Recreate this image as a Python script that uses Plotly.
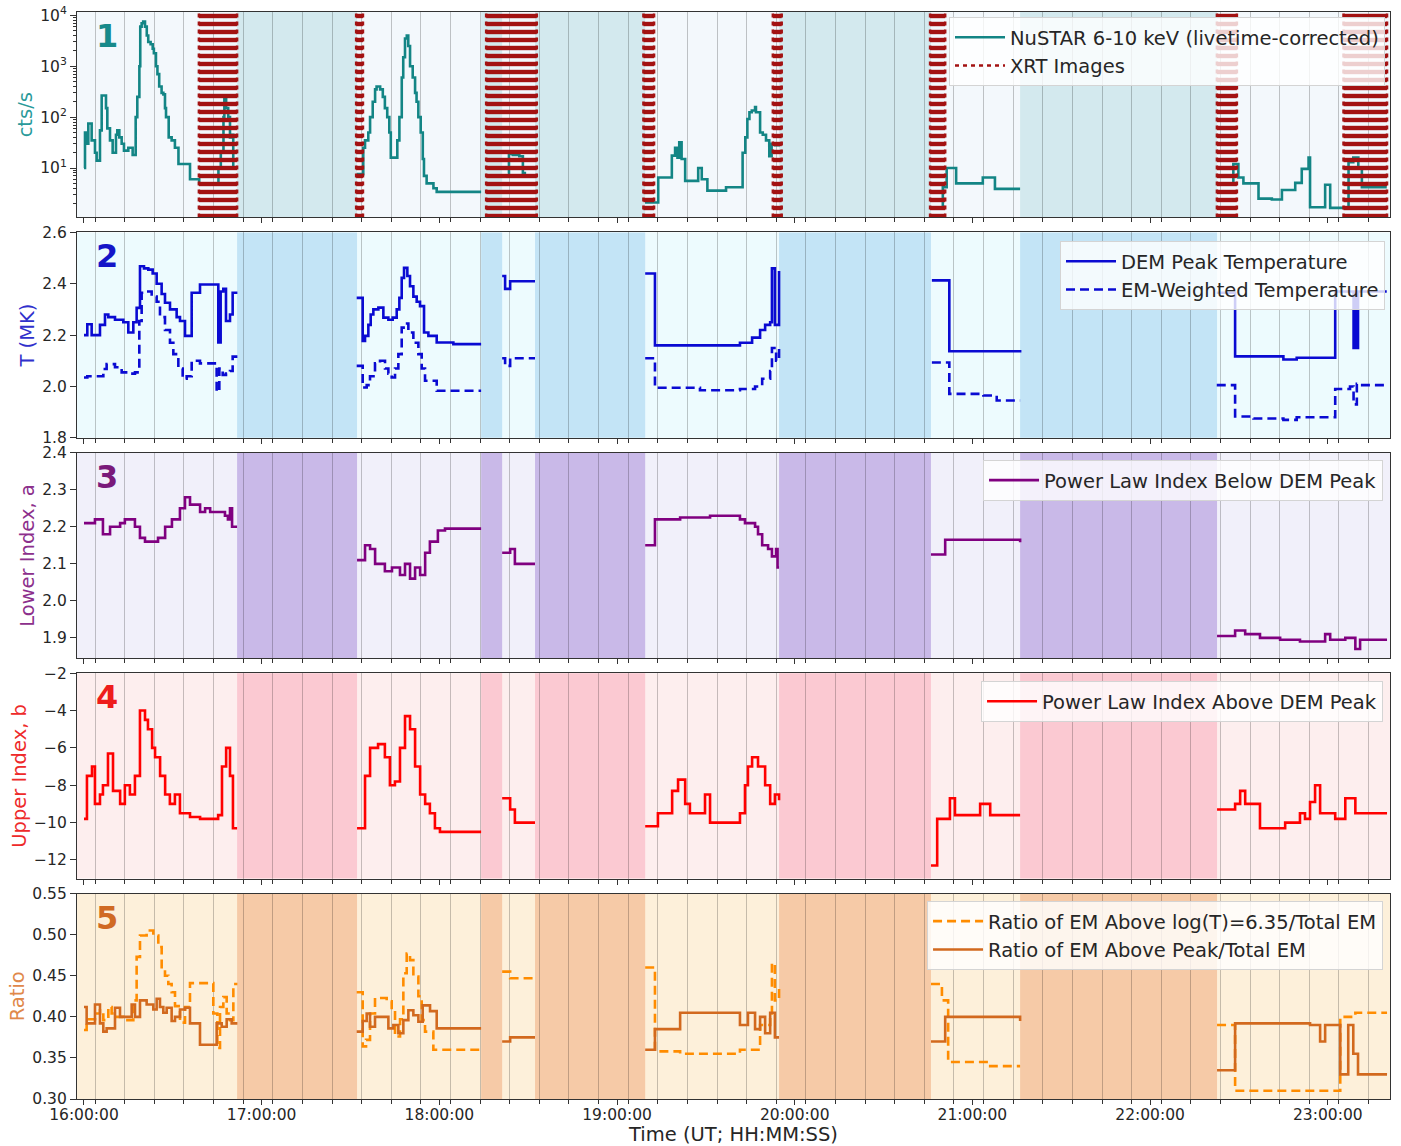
import pandas as pd
import plotly.graph_objects as go
from plotly.subplots import make_subplots

# ---------------------------------------------------------------------------
# Data (times are minutes after 16:00:00 UT; one inner list per orbit segment)
# ---------------------------------------------------------------------------
START = pd.Timestamp("2021-07-30 16:00:00")

# Panel 1: NuSTAR 6-10 keV livetime-corrected count rate
nustar_t = [
    [0, 0.34, 1.12, 1.46, 2.59, 3.71, 4.28, 5.40, 5.97, 7.43, 7.88, 8.78, 9.68, 10.8,
     11.25, 11.93, 12.72, 13.5, 14.97, 16.43, 17.45, 18.0, 18.7, 19.0, 19.47, 20.0,
     20.6, 21.2, 21.7, 22.5, 23.2, 23.6, 24.3, 24.8, 25.4, 26.2, 26.8, 27.35, 27.7,
     28.6, 29.6, 30.7, 31.9, 33.0, 35.8, 38.9, 45.4, 46.2, 47.1, 47.4, 48.0, 48.7,
     49.3, 49.9, 50.4, 51.5],
    [92.1, 94.3, 94.9, 96.0, 96.6, 97.5, 98.3, 98.8, 100.0, 100.9, 101.6, 102.4, 103.1,
     103.6, 105.8, 106.5, 107.3, 107.8, 108.4, 109.0, 109.5, 110.1, 111.0, 111.8,
     112.3, 112.9, 113.7, 114.4, 114.8, 115.7, 118.0, 119.1, 134.1],
    [143.1, 143.5, 144.8, 147.0, 148.2, 149.3],
    [189.45, 193.9, 198.5, 199.6, 200.4, 201.0, 201.8, 203.0, 207.4, 208.6, 210.5,
     216.8, 222.4, 223.3, 224.0, 224.7, 225.5, 226.6, 226.9, 228.3, 229.2, 230.3,
     231.4, 232.2, 233.4, 235.0],
    [286.7, 290.0, 291.3, 294.5, 303.5, 307.6, 316.1],
    [382.5, 388.1, 389.8, 391.5, 396.6, 401.1, 404.5, 409.0, 411.2, 413.5, 414.0,
     419.1, 420.8, 427.0, 428.6, 430.3, 431.5, 439.9],
]
nustar_rate = [
    [10, 50, 30, 75, 35, 20, 14, 55, 265, 150, 60, 35, 20, 45, 55, 40, 30, 22, 25, 18,
     100, 250, 1000, 6000, 7000, 7500, 6000, 4000, 3000, 2700, 2200, 1800, 1000, 700,
     400, 300, 280, 150, 100, 40, 35, 25, 12, 12, 6, 5, 10, 20, 100, 250, 150, 100,
     40, 45, 10, 10],
    [7.6, 25, 35, 50, 100, 200, 350, 400, 350, 250, 150, 100, 50, 16, 35, 100, 600,
     1500, 3500, 4000, 2500, 1000, 600, 300, 200, 100, 50, 15, 7, 5, 4, 3.4, 3.4],
    [8, 19, 18, 17, 8, 8],
    [2.1, 6.5, 17.5, 25, 16, 32, 15, 5.6, 10, 6, 3.6, 4.2, 20, 40, 92, 125, 135, 158,
     125, 50, 45, 35, 17, 30, 28, 28],
    [1.7, 4.2, 10, 5, 6.5, 3.9, 3.9],
    [5, 12, 6.5, 5, 2.5, 2.4, 3.7, 5.1, 9.6, 16, 1.7, 4.7, 1.65, 13, 16, 10, 4.2, 4.2],
]

# XRT imaging windows (start, end)
xrt_start = [38.8, 91.9, 135.8, 188.9, 232.6, 285.7, 382.55, 425.3]
xrt_end = [51.7, 94.2, 152.9, 192.5, 235.6, 290.8, 389.3, 440.0]

# Panel 2: temperatures (MK)
tpeak_t = [
    [0, 1.12, 2.59, 5.40, 7.09, 8.22, 10.47, 13.28, 14.97, 16.66, 17.78, 18.91, 20.26,
     21.72, 23.19, 24.54, 26.22, 27.35, 29.04, 31.29, 32.42, 34.11, 36.36, 39.17,
     45.36, 46.15, 47.05, 47.95, 49.30, 50.2, 51.8],
    [92.08, 94.11, 94.9, 96.02, 96.81, 97.71, 99.4, 101.09, 102.78, 104.24, 105.6,
     106.49, 107.28, 108.07, 109.19, 110.09, 111.22, 112.34, 113.47, 114.82, 116.29,
     119.1, 124.73, 134.1],
    [141.2, 142.2, 143.9, 152.3],
    [189.5, 192.8, 221.5, 225.6, 228.3, 230.0, 231.7, 232.3, 233.3, 234.7],
    [286.3, 292.2, 316.1],
    [382.5, 388.7, 405.0, 409.5, 422.5, 428.7, 429.3, 429.6, 430.2, 439.9],
]
tpeak = [
    [2.20, 2.242, 2.20, 2.24, 2.28, 2.27, 2.26, 2.25, 2.21, 2.25, 2.306, 2.468, 2.46,
     2.455, 2.44, 2.40, 2.36, 2.326, 2.30, 2.27, 2.255, 2.197, 2.365, 2.397, 2.171,
     2.37, 2.38, 2.255, 2.28, 2.365, 2.365],
    [2.345, 2.177, 2.197, 2.24, 2.28, 2.30, 2.307, 2.268, 2.26, 2.268, 2.30, 2.345,
     2.423, 2.462, 2.43, 2.39, 2.35, 2.33, 2.313, 2.21, 2.197, 2.171, 2.165, 2.165],
    [2.43, 2.38, 2.41, 2.41],
    [2.44, 2.16, 2.17, 2.19, 2.22, 2.24, 2.25, 2.46, 2.24, 2.45],
    [2.413, 2.137, 2.132],
    [2.365, 2.117, 2.105, 2.112, 2.37, 2.15, 2.37, 2.15, 2.37, 2.37],
]
tem_t = [
    [0, 1.12, 6.53, 7.65, 10.47, 12.72, 14.97, 17.22, 18.68, 19.47, 21.16, 22.85,
     24.54, 25.66, 27.35, 29.04, 30.17, 31.86, 33.32, 34.67, 36.36, 39.17, 44.8,
     45.7, 46.83, 47.95, 49.3, 50.2, 51.8],
    [92.08, 94.11, 95.46, 96.58, 98.27, 99.96, 101.65, 102.78, 103.9, 105.03, 106.15,
     107.28, 108.4, 109.53, 111.22, 112.91, 114.03, 115.16, 119.1, 134.1],
    [141.2, 142.2, 143.9, 152.3],
    [189.5, 192.8, 208.0, 221.5, 226.6, 229.0, 231.7, 232.3, 233.7, 234.7],
    [286.3, 292.2, 303.7, 308.2, 316.1],
    [382.5, 388.7, 394.9, 405.0, 409.5, 422.5, 427.5, 428.7, 429.8, 430.9, 439.9],
]
tem = [
    [2.035, 2.04, 2.068, 2.087, 2.075, 2.055, 2.05, 2.055, 2.255, 2.365, 2.37, 2.35,
     2.33, 2.27, 2.22, 2.17, 2.126, 2.07, 2.03, 2.04, 2.10, 2.09, 1.98, 2.07, 2.045,
     2.05, 2.06, 2.116, 2.116],
    [2.08, 1.996, 2.005, 2.04, 2.09, 2.10, 2.07, 2.05, 2.035, 2.07, 2.126, 2.229,
     2.245, 2.21, 2.17, 2.126, 2.07, 2.022, 1.983, 1.983],
    [2.11, 2.08, 2.11, 2.11],
    [2.11, 1.995, 1.985, 1.99, 2.00, 2.03, 2.06, 2.15, 2.10, 2.15],
    [2.093, 1.971, 1.965, 1.945, 1.945],
    [2.005, 1.883, 1.875, 1.87, 1.88, 1.99, 2.0, 1.93, 2.01, 2.005, 2.005],
]

# Panel 3: power-law index below the DEM peak
idx_a_t = [
    [0, 3.7, 6.4, 8.8, 12.2, 13.8, 17.2, 18.9, 20.6, 25.0, 27.4, 29.7, 32.4, 34.1, 35.8,
     39.2, 40.9, 42.6, 47.6, 48.6, 49.3, 50.0, 51.7],
    [92.2, 94.9, 96.6, 98.3, 101.6, 104.0, 106.7, 108.4, 110.1, 111.8, 113.5, 115.2,
     116.8, 119.5, 121.9, 134.1],
    [141.2, 143.9, 145.5, 152.3],
    [189.5, 192.8, 201.3, 211.4, 221.5, 223.2, 226.6, 227.6, 229.0, 231.0, 232.3, 233.7,
     234.2, 234.7],
    [286.0, 290.8, 316.1],
    [382.6, 388.7, 392.1, 397.1, 403.9, 410.6, 419.1, 420.8, 425.9, 429.3, 430.9, 440.0],
]
idx_a = [
    [2.21, 2.22, 2.18, 2.20, 2.21, 2.22, 2.20, 2.17, 2.16, 2.17, 2.20, 2.22, 2.25, 2.28,
     2.26, 2.24, 2.25, 2.24, 2.23, 2.22, 2.25, 2.20, 2.20],
    [2.11, 2.15, 2.14, 2.10, 2.08, 2.09, 2.07, 2.10, 2.06, 2.09, 2.07, 2.13, 2.16, 2.19,
     2.195, 2.195],
    [2.13, 2.14, 2.10, 2.10],
    [2.15, 2.22, 2.225, 2.23, 2.22, 2.21, 2.20, 2.18, 2.15, 2.14, 2.12, 2.14, 2.09, 2.09],
    [2.125, 2.165, 2.158],
    [1.905, 1.92, 1.91, 1.90, 1.895, 1.89, 1.91, 1.895, 1.90, 1.87, 1.895, 1.895],
]

# Panel 4: power-law index above the DEM peak
idx_b_t = [
    [0, 1.0, 2.7, 3.7, 5.4, 6.4, 8.1, 9.8, 12.2, 13.8, 15.5, 17.2, 18.9, 20.6, 21.6,
     23.0, 24.0, 25.7, 27.4, 29.0, 30.7, 32.4, 35.8, 39.2, 45.3, 46.6, 48.0, 49.3,
     50.3, 51.7],
    [92.2, 94.9, 96.6, 99.3, 101.6, 103.3, 105.0, 106.7, 108.4, 110.1, 111.8, 113.5,
     115.2, 116.8, 118.5, 120.2, 134.1],
    [141.2, 143.9, 145.5, 152.3],
    [189.5, 193.8, 198.6, 200.6, 203.0, 204.6, 209.7, 211.4, 221.5, 223.2, 224.2,
     225.6, 227.6, 230.0, 231.7, 233.3, 234.7],
    [286.0, 288.1, 292.4, 294.1, 302.6, 306.0, 316.1],
    [382.6, 388.7, 390.4, 392.1, 397.1, 405.6, 410.6, 412.3, 414.0, 415.7, 417.4,
     422.5, 425.9, 429.3, 440.0],
]
idx_b = [
    [-9.8, -7.5, -7.0, -9.0, -8.5, -8.0, -6.3, -8.3, -9.0, -8.0, -8.5, -7.5, -4.0,
     -4.5, -5.0, -6.0, -6.5, -7.5, -8.5, -9.0, -8.5, -9.5, -9.7, -9.8, -9.6, -7.0,
     -6.0, -7.5, -10.3, -10.3],
    [-10.3, -7.5, -6.0, -5.8, -6.5, -8.0, -7.8, -6.0, -4.3, -5.0, -7.0, -8.5, -9.0,
     -9.5, -10.3, -10.5, -10.5],
    [-8.7, -9.3, -10.0, -10.0],
    [-10.2, -9.5, -8.3, -7.7, -9.0, -9.5, -8.5, -10.0, -9.5, -8.0, -7.0, -6.5, -7.0,
     -8.0, -9.0, -8.5, -8.8],
    [-12.3, -9.8, -8.7, -9.6, -9.0, -9.6, -9.6],
    [-9.3, -9.0, -8.3, -9.0, -10.3, -10.0, -9.5, -9.8, -8.9, -8.0, -9.5, -9.8, -8.7,
     -9.5, -9.5],
]

# Panel 5: emission-measure ratios
ratio_hot_t = [
    [0, 0.9, 4.28, 5.40, 6.53, 8.22, 9.34, 10.47, 13.28, 16.66, 17.78, 18.91, 21.16,
     23.41, 25.1, 26.23, 27.35, 28.48, 29.6, 30.73, 32.42, 34.11, 35.79, 43.67, 45.03,
     45.93, 47.05, 48.18, 49.3, 50.43, 51.8],
    [92.08, 94.11, 95.24, 96.58, 98.27, 102.21, 103.9, 105.03, 106.72, 107.84, 108.97,
     110.09, 111.22, 112.91, 114.03, 115.16, 117.97, 134.1],
    [141.2, 143.9, 152.3],
    [189.5, 192.8, 201.3, 221.5, 228.3, 231.7, 232.3, 233.3, 234.7],
    [286.0, 289.7, 291.8, 306.0, 316.1],
    [382.6, 388.7, 424.2, 429.3, 440.0],
]
ratio_hot = [
    [0.384, 0.397, 0.404, 0.408, 0.396, 0.412, 0.404, 0.40, 0.396, 0.42, 0.473, 0.499,
     0.505, 0.499, 0.485, 0.457, 0.45, 0.44, 0.43, 0.413, 0.393, 0.412, 0.441, 0.404,
     0.362, 0.412, 0.424, 0.404, 0.396, 0.44, 0.44],
    [0.430, 0.364, 0.372, 0.404, 0.423, 0.419, 0.408, 0.376, 0.397, 0.453, 0.477,
     0.469, 0.449, 0.425, 0.396, 0.382, 0.360, 0.360],
    [0.455, 0.447, 0.447],
    [0.46, 0.358, 0.355, 0.36, 0.39, 0.40, 0.465, 0.42, 0.44],
    [0.44, 0.42, 0.345, 0.34, 0.34],
    [0.39, 0.31, 0.40, 0.405, 0.405],
]
ratio_peak_t = [
    [0, 0.9, 3.71, 5.40, 6.53, 7.65, 10.47, 12.16, 16.1, 17.22, 18.91, 21.16, 23.41,
     24.54, 25.66, 26.79, 27.92, 29.6, 30.73, 32.42, 34.11, 35.79, 39.17, 44.8, 46.49,
     48.18, 49.87, 51.8],
    [92.08, 94.11, 95.46, 96.58, 98.27, 99.96, 102.78, 104.47, 106.15, 107.84, 109.53,
     111.22, 112.91, 114.37, 116.85, 119.1, 134.1],
    [141.2, 143.9, 152.3],
    [189.5, 192.8, 201.3, 221.5, 224.2, 226.6, 228.3, 230.0, 231.7, 233.3, 234.7],
    [286.0, 290.8, 316.1],
    [382.6, 388.7, 414.0, 417.4, 419.1, 424.2, 426.9, 428.6, 430.2, 440.0],
]
ratio_peak = [
    [0.412, 0.392, 0.415, 0.392, 0.382, 0.386, 0.411, 0.40, 0.415, 0.40, 0.42, 0.415,
     0.409, 0.422, 0.412, 0.405, 0.411, 0.395, 0.40, 0.409, 0.411, 0.392, 0.366, 0.392,
     0.388, 0.397, 0.392, 0.392],
    [0.382, 0.395, 0.404, 0.388, 0.40, 0.40, 0.386, 0.39, 0.38, 0.396, 0.408, 0.402,
     0.394, 0.414, 0.407, 0.386, 0.386],
    [0.37, 0.375, 0.375],
    [0.36, 0.385, 0.405, 0.39, 0.405, 0.385, 0.40, 0.38, 0.405, 0.375, 0.375],
    [0.37, 0.40, 0.395],
    [0.335, 0.392, 0.39, 0.37, 0.39, 0.33, 0.39, 0.355, 0.33, 0.33],
]

# Intervals without DEM coverage (shaded darker in every panel)
gap_start = [51.7, 134.1, 152.3, 234.7, 316.1]
gap_end = [92.2, 141.2, 189.5, 286.0, 382.6]

X_RANGE = [-2.36, 441.0]


def ts(m):
    return START + pd.Timedelta(minutes=m)


def join(segs_t, segs_v):
    """Flatten orbit segments into one trace, with gaps between segments."""
    xs, ys = [], []
    for t, v in zip(segs_t, segs_v):
        xs += [ts(m) for m in t] + [None]
        ys += list(v) + [None]
    return xs, ys


FONT = "DejaVu Sans"
panels = [
    dict(title="cts/s", col="#2a9a9a", light="#f3f8fc", dark="#d3e9ee", num="#178a8a"),
    dict(title="T (MK)", col="#3030cc", light="#edfbfe", dark="#c3e4f6", num="#1515c8"),
    dict(title="Lower Index, a", col="#8c2f8c", light="#f1f0fa", dark="#c9b9e8", num="#7a1a7a"),
    dict(title="Upper Index, b", col="#ee2a2a", light="#fdeeee", dark="#fbc9d2", num="#ee1c1c"),
    dict(title="Ratio", col="#e0884a", light="#fdf0da", dark="#f6caa7", num="#d06a24"),
]

fig = make_subplots(rows=5, cols=1, shared_xaxes=True, vertical_spacing=0.0138)

# Panel 1 ---------------------------------------------------------------
x, y = join(nustar_t, nustar_rate)
fig.add_trace(go.Scatter(x=x, y=y, mode="lines", name="NuSTAR 6-10 keV (livetime-corrected)",
                         line=dict(color="#138585", width=2.6, shape="hv"),
                         legend="legend"), row=1, col=1)

XRT_COL = "#a31212"
XRT_LO, XRT_HI = 1.07, 11700
hx, hy, ex, ey = [], [], [], []
for s, e in zip(xrt_start, xrt_end):
    hx += [ts(s), ts(e), ts(e), ts(s), ts(s), None]
    hy += [XRT_LO, XRT_LO, XRT_HI, XRT_HI, XRT_LO, None]
    ex += [ts(s), ts(s), None, ts(e), ts(e), None]
    ey += [XRT_LO, XRT_HI, None, XRT_LO, XRT_HI, None]
fig.add_trace(go.Scatter(x=hx, y=hy, mode="none", fill="toself", showlegend=False,
                         fillcolor="rgba(0,0,0,0)", hoverinfo="skip",
                         fillpattern=dict(shape="-", fgcolor=XRT_COL, bgcolor="rgba(0,0,0,0)",
                                          fgopacity=1, size=8, solidity=0.55)), row=1, col=1)
fig.add_trace(go.Scatter(x=ex, y=ey, mode="lines", name="XRT Images",
                         line=dict(color=XRT_COL, width=2.5, dash="4px,4px"),
                         legend="legend"), row=1, col=1)

# Panel 2 ---------------------------------------------------------------
x, y = join(tpeak_t, tpeak)
fig.add_trace(go.Scatter(x=x, y=y, mode="lines", name="DEM Peak Temperature",
                         line=dict(color="#0a0ad2", width=2.6, shape="hv"),
                         legend="legend2"), row=2, col=1)
x, y = join(tem_t, tem)
fig.add_trace(go.Scatter(x=x, y=y, mode="lines", name="EM-Weighted Temperature",
                         line=dict(color="#0a0ad2", width=2.6, shape="hv", dash="9px,5px"),
                         legend="legend2"), row=2, col=1)

# Panel 3 ---------------------------------------------------------------
x, y = join(idx_a_t, idx_a)
fig.add_trace(go.Scatter(x=x, y=y, mode="lines", name="Power Law Index Below DEM Peak",
                         line=dict(color="#800080", width=2.6, shape="hv"),
                         legend="legend3"), row=3, col=1)

# Panel 4 ---------------------------------------------------------------
x, y = join(idx_b_t, idx_b)
fig.add_trace(go.Scatter(x=x, y=y, mode="lines", name="Power Law Index Above DEM Peak",
                         line=dict(color="#ff0000", width=2.6, shape="hv"),
                         legend="legend4"), row=4, col=1)

# Panel 5 ---------------------------------------------------------------
x, y = join(ratio_hot_t, ratio_hot)
fig.add_trace(go.Scatter(x=x, y=y, mode="lines", name="Ratio of EM Above log(T)=6.35/Total EM",
                         line=dict(color="#ff8c00", width=2.6, shape="hv", dash="9px,5px"),
                         legend="legend5"), row=5, col=1)
x, y = join(ratio_peak_t, ratio_peak)
fig.add_trace(go.Scatter(x=x, y=y, mode="lines", name="Ratio of EM Above Peak/Total EM",
                         line=dict(color="#d2691e", width=2.6, shape="hv"),
                         legend="legend5"), row=5, col=1)

# Backgrounds, shaded gaps and panel numbers
shapes, annotations = [], []
for i, p in enumerate(panels, start=1):
    ax = "" if i == 1 else str(i)
    shapes.append(dict(type="rect", xref=f"x{ax} domain", yref=f"y{ax} domain",
                       x0=0, x1=1, y0=0, y1=1, fillcolor=p["light"], line_width=0,
                       layer="below"))
    for s, e in zip(gap_start, gap_end):
        shapes.append(dict(type="rect", xref=f"x{ax}", yref=f"y{ax} domain",
                           x0=ts(s), x1=ts(e), y0=0, y1=1, fillcolor=p["dark"],
                           line_width=0, layer="below"))
    annotations.append(dict(text=f"<b>{i}</b>", xref=f"x{ax} domain", yref=f"y{ax} domain",
                            x=0.013, y=0.985, xanchor="left", yanchor="top", showarrow=False,
                            font=dict(family=FONT, size=32, color=p["num"])))
    fig.update_yaxes(title=dict(text=p["title"], font=dict(family=FONT, size=19.5, color=p["col"]),
                                standoff=2), row=i, col=1)

fig.update_xaxes(
    type="date", range=[ts(X_RANGE[0]), ts(X_RANGE[1])], automargin=False,
    tickformat="%H:%M:%S", tick0=ts(0), dtick=3600000,
    ticks="outside", ticklen=5, tickcolor="#333", showgrid=False,
    showline=True, mirror=True, linecolor="#333", linewidth=1.2,
    tickfont=dict(family=FONT, size=15.5, color="#262626"), ticklabelstandoff=-4,
    minor=dict(tick0=ts(3.75), dtick=600000, ticks="outside", ticklen=4, tickcolor="#333",
               showgrid=True, gridcolor="rgba(0,0,0,0.22)", gridwidth=1),
)
fig.update_xaxes(title=dict(text="Time (UT; HH:MM:SS)", font=dict(family=FONT, size=19.5, color="#262626"),
                            standoff=3), row=5, col=1)
fig.update_yaxes(showgrid=False, zeroline=False, ticks="outside", ticklen=6, tickcolor="#333",
                 showline=True, mirror=True, linecolor="#333", linewidth=1.2, automargin=False,
                 tickfont=dict(family=FONT, size=15.5, color="#262626"))

minor_log = [k * 10 ** e for e in range(0, 4) for k in range(2, 10)]
fig.update_yaxes(type="log", range=[0.03, 4.065], tickvals=[10, 100, 1000, 10000],
                 ticktext=["10<sup>1</sup>", "10<sup>2</sup>", "10<sup>3</sup>", "10<sup>4</sup>"],
                 minor=dict(tickmode="array", tickvals=minor_log, ticks="outside", ticklen=3,
                            tickcolor="#333"),
                 row=1, col=1)
fig.update_yaxes(range=[1.8, 2.6], dtick=0.2, tickformat=".1f", row=2, col=1)
fig.update_yaxes(range=[1.845, 2.4], dtick=0.1, tickformat=".1f", row=3, col=1)
fig.update_yaxes(range=[-13.0, -2.0], tick0=-2, dtick=2, row=4, col=1)
fig.update_yaxes(range=[0.30, 0.55], dtick=0.05, tickformat=".2f", row=5, col=1)

legend_style = dict(bgcolor="rgba(255,255,255,0.8)", bordercolor="#d4d4d4", borderwidth=1,
                    font=dict(family=FONT, size=19.5, color="#262626"),
                    xanchor="right", yanchor="top", tracegroupgap=0, itemwidth=50)
fig.update_layout(
    width=1401, height=1146,
    margin=dict(l=77, r=11, t=12, b=47, autoexpand=False),
    paper_bgcolor="white", plot_bgcolor="white",
    shapes=shapes, annotations=annotations,
    showlegend=True,
    legend=dict(x=0.9962, y=0.9954, **legend_style),
    legend2=dict(x=0.9962, y=0.7893, **legend_style),
    legend3=dict(x=0.9947, y=0.5879, **legend_style),
    legend4=dict(x=0.9947, y=0.3845, **legend_style),
    legend5=dict(x=0.9947, y=0.1822, **legend_style),
)

fig.write_html("out.html")
